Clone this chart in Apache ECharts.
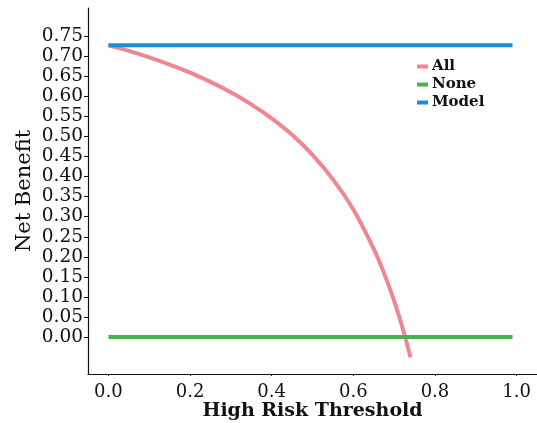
<!DOCTYPE html>
<html><head><meta charset="utf-8">
<script src="https://cdn.jsdelivr.net/npm/echarts@6/dist/echarts.min.js"></script>
<style>html,body{margin:0;padding:0;background:#fff;}#c{width:537px;height:423px;}</style>
</head><body><div id="c"></div>
<script>
const thresholds = [0, 0.05, 0.1, 0.15, 0.2, 0.25, 0.3, 0.35, 0.4, 0.45, 0.5, 0.55, 0.6, 0.65, 0.675, 0.7, 0.72, 0.73, 0.74];
const allValues  = [0.727, 0.713, 0.697, 0.679, 0.659, 0.636, 0.610, 0.580, 0.545, 0.504, 0.454, 0.393, 0.318, 0.220, 0.160, 0.090, 0.025, -0.011, -0.050];
const flatX = [0, 0.99];
const noneValues = [0, 0];
const modelValues = [0.727, 0.727];
const yTicks = [0,0.05,0.1,0.15,0.2,0.25,0.3,0.35,0.4,0.45,0.5,0.55,0.6,0.65,0.7,0.75];
const xTicks = [0,0.2,0.4,0.6,0.8,1.0];
const seriesNames = ['All','None','Model'];
const colors = ['#ef8690','#4cb050','#1a8ed6'];

const zip = (xs, ys) => xs.map((x,i)=>[x, ys[i]]);
const serif = 'DejaVu Serif';
const chart = echarts.init(document.getElementById('c'));
chart.setOption({
  backgroundColor:'#fff',
  animation:false,
  grid:{left:88, top:8, right:0, bottom:49, containLabel:false, outerBoundsMode:'none'},
  legend:{
    orient:'vertical', left:412, top:54, itemGap:3,
    itemWidth:11, itemHeight:4, icon:'rect',
    data:seriesNames,
    textStyle:{fontFamily:serif, fontWeight:'bold', fontSize:15, color:'#111', padding:[0,0,0,-1]}
  },
  xAxis:{
    type:'value', min:-0.05, max:1.05,
    name:'High Risk Threshold', nameLocation:'middle', nameGap:28, nameMoveOverlap:false,
    nameTextStyle:{fontFamily:serif, fontWeight:'bold', fontSize:19, color:'#111'},
    axisLine:{onZero:false, lineStyle:{color:'#111', width:1.2}},
    axisTick:{show:true, length:2, customValues:xTicks, lineStyle:{color:'#111'}},
    axisLabel:{customValues:xTicks, fontFamily:serif, fontSize:18, color:'#111', margin:9,
      formatter:v=>v.toFixed(1)},
    splitLine:{show:false}
  },
  yAxis:{
    type:'value', min:-0.092, max:0.82,
    name:'Net Benefit', nameLocation:'middle', nameGap:53, nameMoveOverlap:false,
    nameTextStyle:{fontFamily:serif, fontSize:21, color:'#111'},
    axisLine:{onZero:false, lineStyle:{color:'#111', width:1.2}},
    axisTick:{show:true, length:4, customValues:yTicks, lineStyle:{color:'#111'}},
    axisLabel:{customValues:yTicks, fontFamily:serif, fontSize:18.5, color:'#111', margin:5,
      formatter:v=>v.toFixed(2)},
    splitLine:{show:false}
  },
  series:[
    {name:seriesNames[0], type:'line', data:zip(thresholds, allValues), smooth:0.3, showSymbol:false,
      lineStyle:{width:4, color:colors[0]}, itemStyle:{color:colors[0]}, z:2},
    {name:seriesNames[1], type:'line', data:zip(flatX, noneValues), showSymbol:false,
      lineStyle:{width:4, color:colors[1]}, itemStyle:{color:colors[1]}, z:3},
    {name:seriesNames[2], type:'line', data:zip(flatX, modelValues), showSymbol:false,
      lineStyle:{width:4, color:colors[2]}, itemStyle:{color:colors[2]}, z:3}
  ]
});
</script></body></html>
